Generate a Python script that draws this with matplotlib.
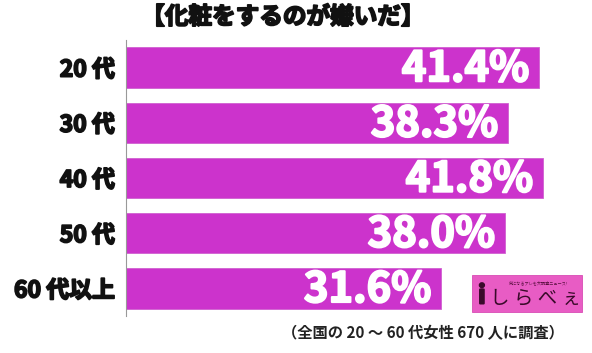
import matplotlib
matplotlib.use('Agg')
import matplotlib.pyplot as plt
import matplotlib.patheffects as pe
from matplotlib.patches import FancyBboxPatch

plt.rcParams['font.family'] = ['Noto Sans CJK JP', 'DejaVu Sans']

categories = ['20 代', '30 代', '40 代', '50 代', '60 代以上']
values = [41.4, 38.3, 41.8, 38.0, 31.6]

C_BAR = '#CC33CC'

W, H = 592, 353
fig = plt.figure(figsize=(W / 100, H / 100), dpi=100)
fig.patch.set_facecolor('white')

def thick(color, w):
    return [pe.withStroke(linewidth=w, foreground=color)]

ax = fig.add_axes([126 / W, 37 / H, 466 / W, 276 / H])
ypos = list(range(len(categories)))
ax.barh(ypos, values, height=0.73, color=C_BAR, edgecolor='#D060D0', linewidth=0.6, zorder=2)
ax.set_xlim(0, 466 / 9.98)
ax.set_ylim(len(categories) - 0.5, -0.5)

for y, v in zip(ypos, values):
    ax.text(v - 1.0, y + 0.03, f'{v:.1f}%', color='white', fontsize=30, fontweight='bold',
            ha='right', va='center', zorder=3, path_effects=thick('white', 1.5))

ax.set_yticks(ypos)
ax.set_yticklabels(categories, fontsize=16.5, fontweight='bold', color='#111111')
for t in ax.get_yticklabels():
    t.set_path_effects(thick('#111111', 1.3))
ax.tick_params(axis='y', length=0, pad=8)
ax.set_xticks([])
for s in ['top', 'right', 'bottom']:
    ax.spines[s].set_visible(False)
ax.spines['left'].set_color('#999999')
ax.spines['left'].set_linewidth(0.8)

# タイトル
fig.text(283 / W, 1 - 17 / H, '【化粧をするのが嫌いだ】', fontsize=17, fontweight='bold',
         ha='center', va='center', color='#111111', path_effects=thick('#111111', 1.3))

# 注記
fig.text(564 / W, 1 - 333 / H, '（全国の 20 ～ 60 代女性 670 人に調査）', fontsize=11,
         fontweight='bold', ha='right', va='center', color='#222222')

# ロゴ
lx, ly, lw, lh = 472 / W, 1 - 312 / H, 110 / W, 37 / H
fig.patches.append(FancyBboxPatch((lx, ly), lw, lh, boxstyle='square,pad=0',
                                  facecolor='#E85CC4', edgecolor='#D84CB4', linewidth=0.6,
                                  transform=fig.transFigure, zorder=5))
fig.text(lx + lw * 0.6, ly + lh * 0.8, '気になるアレを大調査ニュース!', fontsize=3,
         ha='center', va='center', color='#5a1040', zorder=6)
fig.text(lx + lw * 0.09, ly + lh * 0.42, 'i', fontsize=18, fontweight='bold',
         ha='center', va='center', color='#3a0a2a', zorder=6,
         path_effects=thick('#3a0a2a', 1.5))
fig.text(lx + lw * 0.58, ly + lh * 0.38, 'し ら べ ぇ', fontsize=14,
         ha='center', va='center', color='#3a0a2a', zorder=6)

fig.savefig('out.png', dpi=100, facecolor='white')
